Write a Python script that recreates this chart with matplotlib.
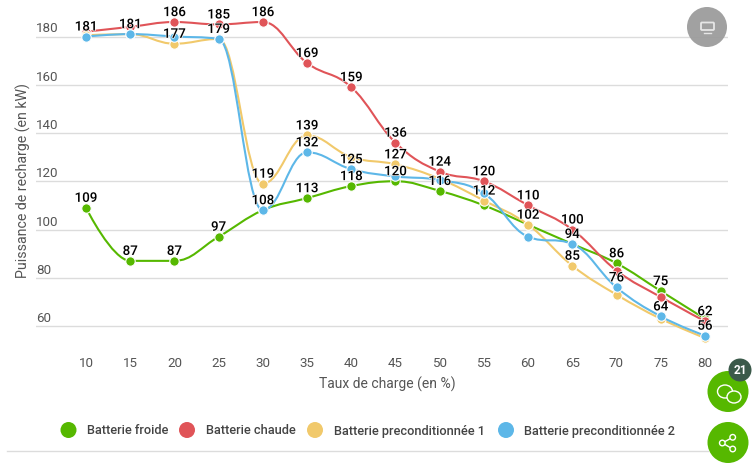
import numpy as np
import matplotlib
matplotlib.use("Agg")
import matplotlib.pyplot as plt
import matplotlib.patheffects as pe
from matplotlib.path import Path
from matplotlib.patches import PathPatch, Circle, Ellipse, FancyBboxPatch
from matplotlib.transforms import ScaledTranslation

plt.rcParams["font.family"] = ["Roboto", "DejaVu Sans"]

soc = [10, 15, 20, 25, 30, 35, 40, 45, 50, 55, 60, 65, 70, 75, 80]
froide = [109, 87, 87, 97, 108, 113, 118, 120, 116, 110, 102, 94, 86, 74.5, 63]
chaude = [182, 184, 186, 185, 186, 169, 159, 136, 124, 120, 110, 100, 83, 72, 62]
precond1 = [180.5, 181, 177, 179, 119, 139, 130, 127, 121, 112, 102, 85, 73, 63, 55]
precond2 = [180, 181, 180, 179, 108, 132, 125, 122, 120.5, 115, 97, 94, 76, 64, 56]

# labels actually visible on the chart, None where hidden
lab_froide = [109, 87, 87, 97, None, 113, 118, 120, 116, None, None, None, 86, 75, None]
lab_chaude = [None, None, 186, 185, 186, 169, 159, 136, 124, 120, 110, 100, None, None, 62]
lab_precond1 = [None, None, 177, None, 119, 139, None, 127, None, 112, 102, 85, None, None, None]
lab_precond2 = [181, 181, None, 179, 108, 132, 125, None, None, None, None, 94, 76, 64, 56]

names = ["Batterie froide", "Batterie chaude", "Batterie preconditionnée 1", "Batterie preconditionnée 2"]
colors = ["#56b800", "#e05458", "#f1c96b", "#5db7e8"]
yticks = [60, 80, 100, 120, 140, 160, 180]

W, H = 754, 463
GRID = "#dcdcdc"
GREY = "#555555"


def spline_path(xs, ys):
    # same smoothing as a highcharts spline
    verts = [(xs[0], ys[0])]
    codes = [Path.MOVETO]
    right = (xs[0], ys[0])
    n = len(xs)
    for i in range(1, n):
        x, y = xs[i], ys[i]
        if i < n - 1:
            lx, ly = xs[i - 1], ys[i - 1]
            nx, ny = xs[i + 1], ys[i + 1]
            lcx, lcy = (1.5 * x + lx) / 2.5, (1.5 * y + ly) / 2.5
            rcx, rcy = (1.5 * x + nx) / 2.5, (1.5 * y + ny) / 2.5
            corr = (rcy - lcy) * (rcx - x) / (rcx - lcx) + y - rcy
            lcy += corr
            rcy += corr
            if lcy > ly and lcy > y:
                lcy = max(ly, y)
                rcy = 2 * y - lcy
            elif lcy < ly and lcy < y:
                lcy = min(ly, y)
                rcy = 2 * y - lcy
            if rcy > ny and rcy > y:
                rcy = max(ny, y)
                lcy = 2 * y - rcy
            elif rcy < ny and rcy < y:
                rcy = min(ny, y)
                lcy = 2 * y - rcy
        else:
            lcx, lcy = x, y
            rcx, rcy = x, y
        verts += [right, (lcx, lcy), (x, y)]
        codes += [Path.CURVE4, Path.CURVE4, Path.CURVE4]
        right = (rcx, rcy)
    return Path(verts, codes)


fig = plt.figure(figsize=(W / 100, H / 100), dpi=100)

# chart area from x=36 to 728 and y=0 to 350 in pixels
ax = fig.add_axes([36 / W, 1 - 350 / H, (728 - 36) / W, 350 / H])
px_x = 44.21 / 5
px_y = 2.4125
ax.set_xlim(10 - (86 - 36) / px_x, 10 + (728 - 86) / px_x)
ax.set_ylim(180 - (350 - 36.5) / px_y, 180 + 36.5 / px_y)

for s in ax.spines.values():
    s.set_visible(False)
ax.set_xticks(soc)
ax.set_yticks(yticks)
ax.grid(axis="y", color=GRID, lw=1)
ax.set_axisbelow(True)
ax.tick_params(axis="x", length=0, pad=5, labelsize=9.6, labelcolor=GREY)
ax.tick_params(axis="y", length=0, pad=0, labelsize=9.6, labelcolor=GREY)
up = ScaledTranslation(0, 1 / 100, fig.dpi_scale_trans)
for t in ax.get_yticklabels():
    t.set_ha("left")
    t.set_va("bottom")
    t.set_x(0)
    t.set_transform(ax.get_yaxis_transform() + up)

series = [froide, chaude, precond1, precond2]
labels = [lab_froide, lab_chaude, lab_precond1, lab_precond2]
for k, (vals, col) in enumerate(zip(series, colors)):
    ax.add_patch(PathPatch(spline_path(soc, vals), fc="none", ec=col, lw=1.5, zorder=3 + k, clip_on=False))
    ax.plot(soc, vals, ls="none", marker="o", ms=6.8, mfc=col, mec="white", mew=0.8, zorder=3 + k, clip_on=False)

for vals, labs in zip(series, labels):
    for x, v, lab in zip(soc, vals, labs):
        if lab is None:
            continue
        ax.annotate(str(lab), (x, v), xytext=(0, 6.8), textcoords="offset points", ha="center", va="center",
                    fontsize=9.6, fontweight="medium", color="black", zorder=10,
                    path_effects=[pe.withStroke(linewidth=1.0, foreground="white")])

# everything outside the plot, placed in pixels
over = fig.add_axes([0, 0, 1, 1], zorder=20)
over.set_xlim(0, W)
over.set_ylim(H, 0)
over.axis("off")
over.patch.set_alpha(0)

over.text(387, 384, "Taux de charge (en %)", ha="center", va="center", fontsize=10, color=GREY)
over.text(23.5, 181, "Puissance de recharge (en kW)", ha="center", va="center", rotation=90, fontsize=10.2, color=GREY)

leg_x = [68.5, 187, 315, 506]
for lx, name, col in zip(leg_x, names, colors):
    over.add_patch(Circle((lx, 430), 8, fc=col, ec="none"))
    over.text(lx + 18.5, 431, name, ha="left", va="center", fontsize=9.2, fontweight="medium", color="#444444")

over.plot([7, 708], [451, 451], color=GRID, lw=1)

# screen widget top right
over.add_patch(Circle((707, 27), 20, fc="#9c9c9c", ec="none", alpha=0.95))
over.add_patch(FancyBboxPatch((701, 22.5), 13, 7.5, boxstyle="round,pad=0,rounding_size=1", fc="none", ec="#e6e6e6", lw=1.3))
over.plot([704, 711], [32.5, 32.5], color="#e6e6e6", lw=1)

# comment and share buttons
green = "#56b800"
over.add_patch(Circle((728, 391.5), 20.5, fc=green, ec="none"))
over.add_patch(Ellipse((725, 391.5), 15, 13, fc="none", ec="white", lw=1))
over.add_patch(Ellipse((734, 397), 14, 12, fc=green, ec="white", lw=1))
over.add_patch(Circle((740, 370), 11.5, fc="#3b5a4a", ec="none"))
over.text(740, 370, "21", ha="center", va="center", fontsize=8.5, fontweight="bold", color="white")

over.add_patch(Circle((728, 442.5), 20.5, fc=green, ec="none"))
over.plot([732.7, 722.3, 732.7], [437.3, 443, 449], color="white", lw=1)
for sx, sy in [(732.7, 437.3), (722.3, 443), (732.7, 449)]:
    over.add_patch(Circle((sx, sy), 2.8, fc=green, ec="white", lw=1, zorder=5))

fig.savefig("out.png", dpi=100)
